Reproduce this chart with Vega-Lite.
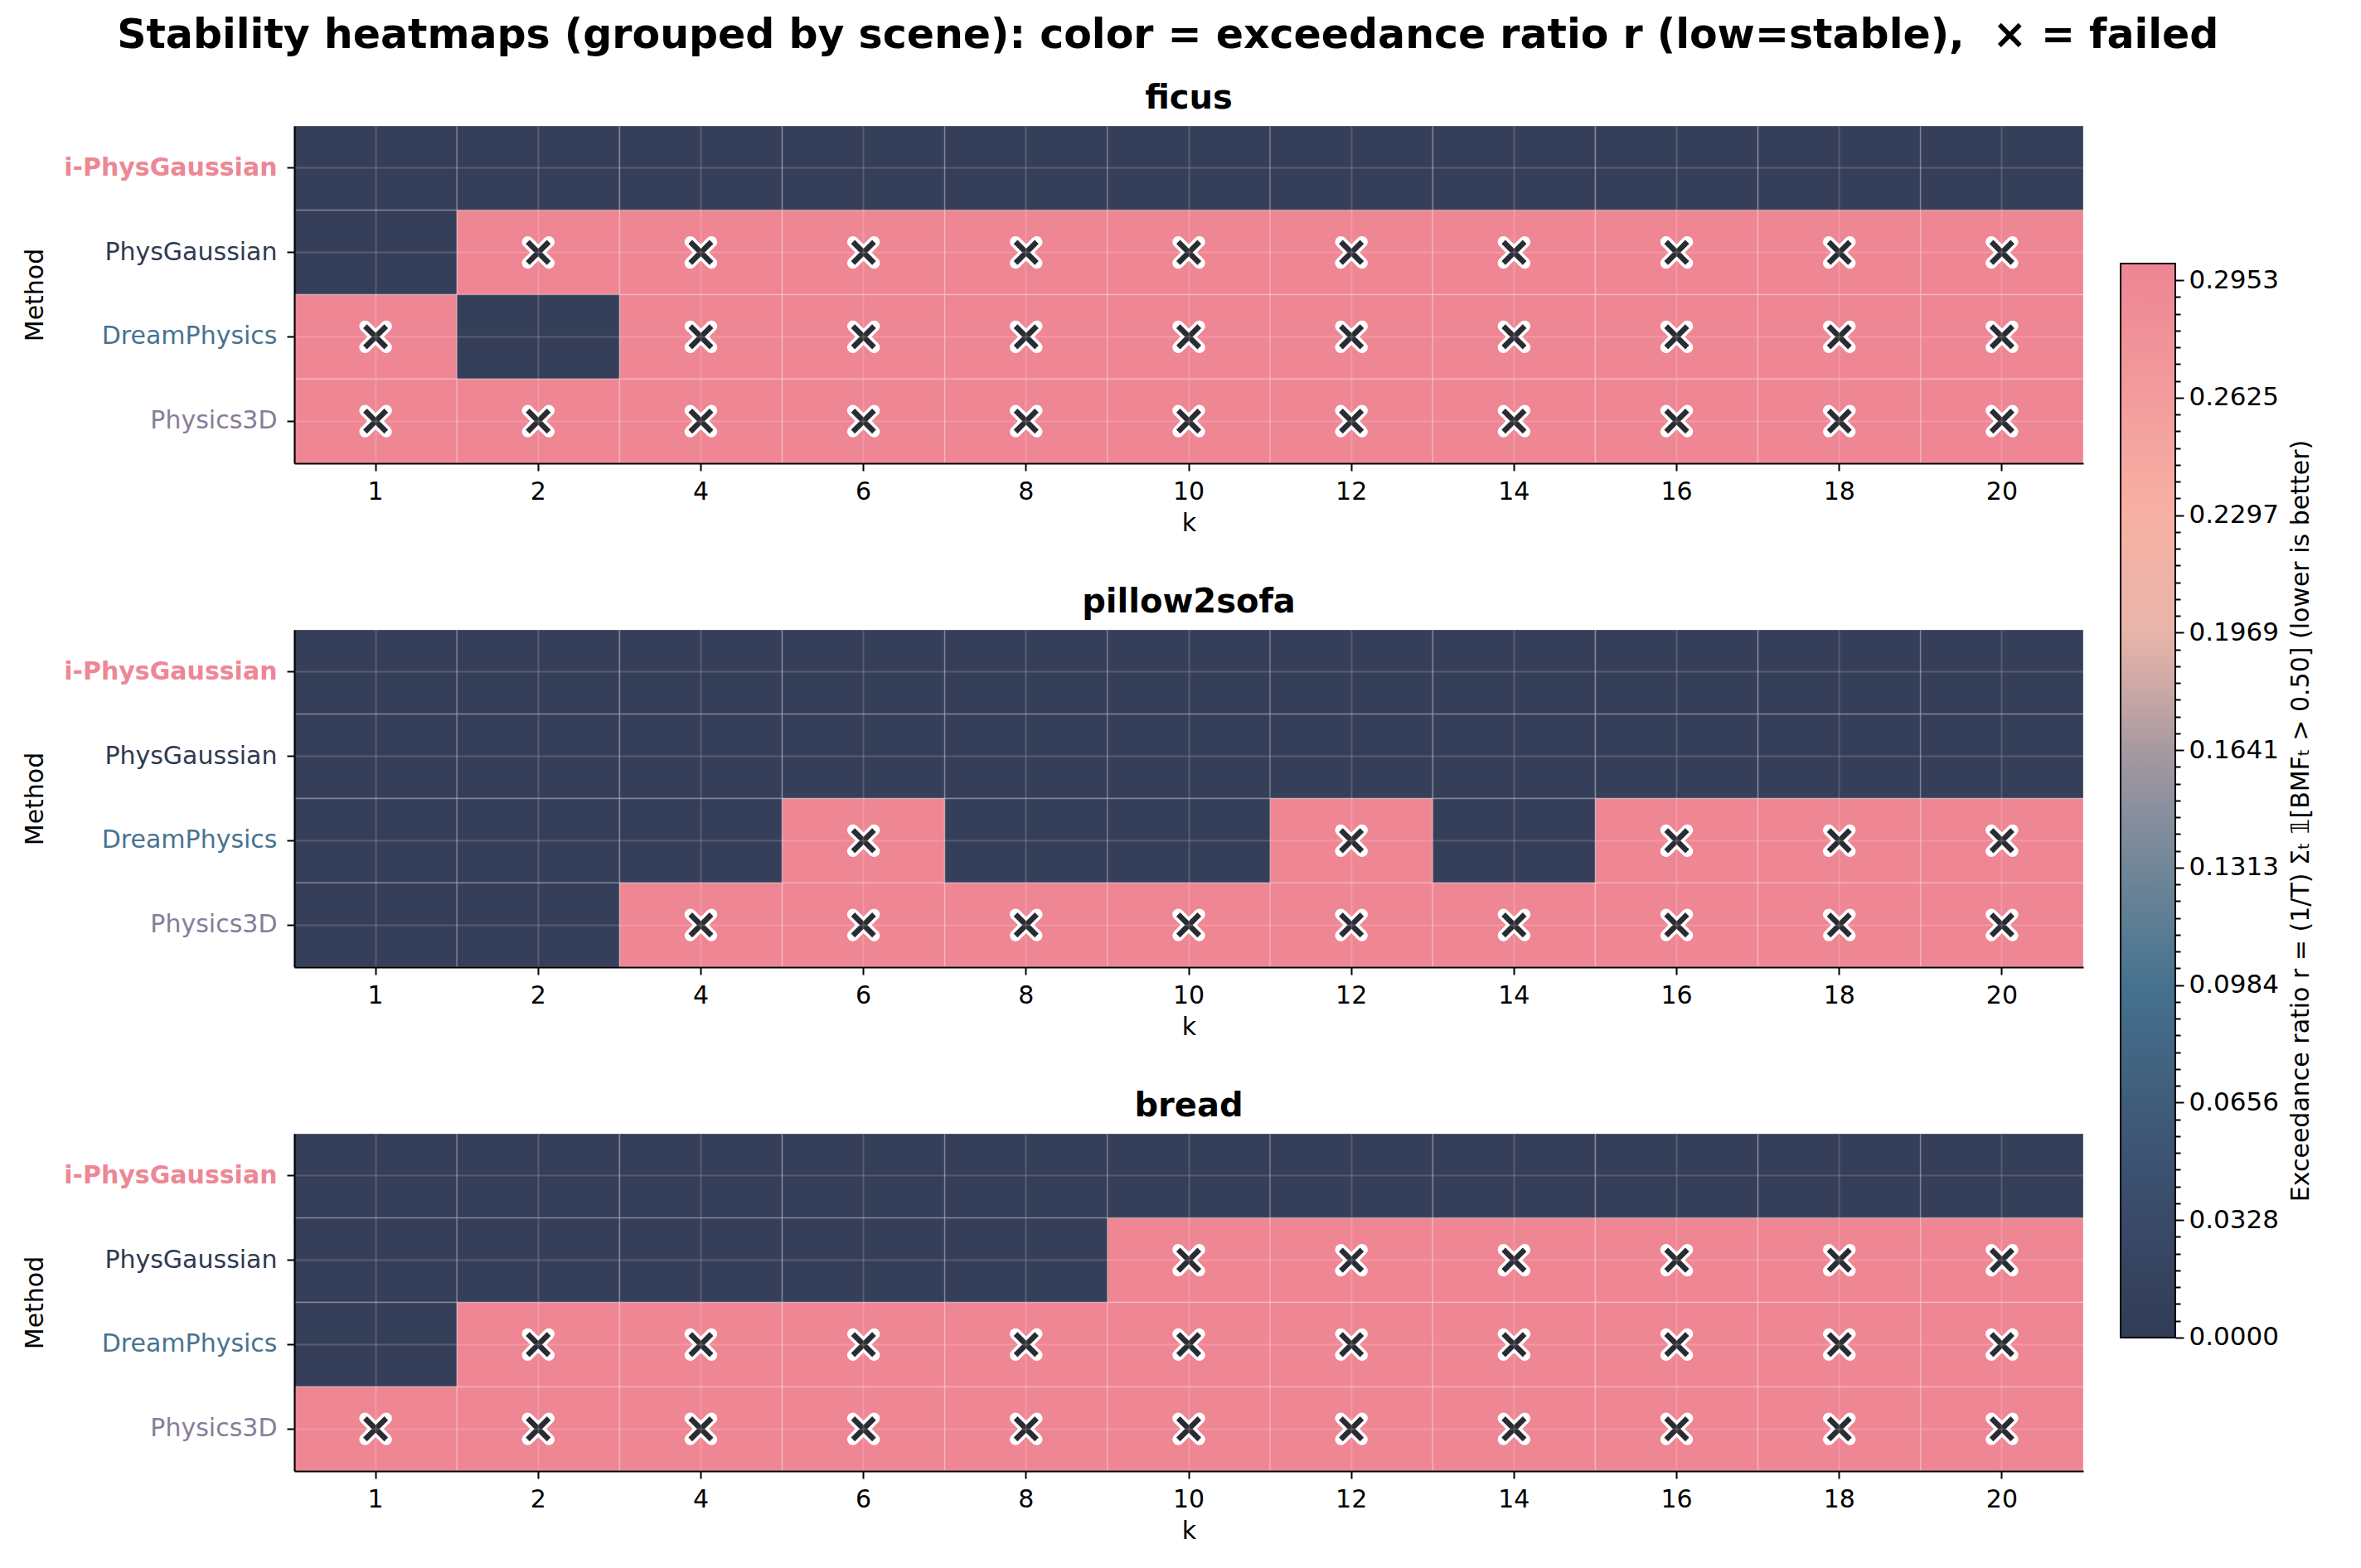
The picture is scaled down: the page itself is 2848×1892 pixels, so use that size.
{
  "$schema": "https://vega.github.io/schema/vega-lite/v6.json",
  "background": "white",
  "padding": {"left": 27, "top": 19, "right": 26, "bottom": 20},
  "title": {"text": "Stability heatmaps (grouped by scene): color = exceedance ratio r (low=stable), \u00a0× = failed", "fontSize": 49, "fontWeight": "bold", "font": "DejaVu Sans", "anchor": "middle", "offset": 31, "color": "black"},
  "datasets": {
    "cbar": [{"lo": 0, "hi": 0.3}],
    "cells": [
      {"scene": "ficus", "method": "i-PhysGaussian", "k": 1, "r": 0, "failed": 0},
      {"scene": "ficus", "method": "i-PhysGaussian", "k": 2, "r": 0, "failed": 0},
      {"scene": "ficus", "method": "i-PhysGaussian", "k": 4, "r": 0, "failed": 0},
      {"scene": "ficus", "method": "i-PhysGaussian", "k": 6, "r": 0, "failed": 0},
      {"scene": "ficus", "method": "i-PhysGaussian", "k": 8, "r": 0, "failed": 0},
      {"scene": "ficus", "method": "i-PhysGaussian", "k": 10, "r": 0, "failed": 0},
      {"scene": "ficus", "method": "i-PhysGaussian", "k": 12, "r": 0, "failed": 0},
      {"scene": "ficus", "method": "i-PhysGaussian", "k": 14, "r": 0, "failed": 0},
      {"scene": "ficus", "method": "i-PhysGaussian", "k": 16, "r": 0, "failed": 0},
      {"scene": "ficus", "method": "i-PhysGaussian", "k": 18, "r": 0, "failed": 0},
      {"scene": "ficus", "method": "i-PhysGaussian", "k": 20, "r": 0, "failed": 0},
      {"scene": "ficus", "method": "PhysGaussian", "k": 1, "r": 0, "failed": 0},
      {"scene": "ficus", "method": "PhysGaussian", "k": 2, "r": 0.3, "failed": 1},
      {"scene": "ficus", "method": "PhysGaussian", "k": 4, "r": 0.3, "failed": 1},
      {"scene": "ficus", "method": "PhysGaussian", "k": 6, "r": 0.3, "failed": 1},
      {"scene": "ficus", "method": "PhysGaussian", "k": 8, "r": 0.3, "failed": 1},
      {"scene": "ficus", "method": "PhysGaussian", "k": 10, "r": 0.3, "failed": 1},
      {"scene": "ficus", "method": "PhysGaussian", "k": 12, "r": 0.3, "failed": 1},
      {"scene": "ficus", "method": "PhysGaussian", "k": 14, "r": 0.3, "failed": 1},
      {"scene": "ficus", "method": "PhysGaussian", "k": 16, "r": 0.3, "failed": 1},
      {"scene": "ficus", "method": "PhysGaussian", "k": 18, "r": 0.3, "failed": 1},
      {"scene": "ficus", "method": "PhysGaussian", "k": 20, "r": 0.3, "failed": 1},
      {"scene": "ficus", "method": "DreamPhysics", "k": 1, "r": 0.3, "failed": 1},
      {"scene": "ficus", "method": "DreamPhysics", "k": 2, "r": 0, "failed": 0},
      {"scene": "ficus", "method": "DreamPhysics", "k": 4, "r": 0.3, "failed": 1},
      {"scene": "ficus", "method": "DreamPhysics", "k": 6, "r": 0.3, "failed": 1},
      {"scene": "ficus", "method": "DreamPhysics", "k": 8, "r": 0.3, "failed": 1},
      {"scene": "ficus", "method": "DreamPhysics", "k": 10, "r": 0.3, "failed": 1},
      {"scene": "ficus", "method": "DreamPhysics", "k": 12, "r": 0.3, "failed": 1},
      {"scene": "ficus", "method": "DreamPhysics", "k": 14, "r": 0.3, "failed": 1},
      {"scene": "ficus", "method": "DreamPhysics", "k": 16, "r": 0.3, "failed": 1},
      {"scene": "ficus", "method": "DreamPhysics", "k": 18, "r": 0.3, "failed": 1},
      {"scene": "ficus", "method": "DreamPhysics", "k": 20, "r": 0.3, "failed": 1},
      {"scene": "ficus", "method": "Physics3D", "k": 1, "r": 0.3, "failed": 1},
      {"scene": "ficus", "method": "Physics3D", "k": 2, "r": 0.3, "failed": 1},
      {"scene": "ficus", "method": "Physics3D", "k": 4, "r": 0.3, "failed": 1},
      {"scene": "ficus", "method": "Physics3D", "k": 6, "r": 0.3, "failed": 1},
      {"scene": "ficus", "method": "Physics3D", "k": 8, "r": 0.3, "failed": 1},
      {"scene": "ficus", "method": "Physics3D", "k": 10, "r": 0.3, "failed": 1},
      {"scene": "ficus", "method": "Physics3D", "k": 12, "r": 0.3, "failed": 1},
      {"scene": "ficus", "method": "Physics3D", "k": 14, "r": 0.3, "failed": 1},
      {"scene": "ficus", "method": "Physics3D", "k": 16, "r": 0.3, "failed": 1},
      {"scene": "ficus", "method": "Physics3D", "k": 18, "r": 0.3, "failed": 1},
      {"scene": "ficus", "method": "Physics3D", "k": 20, "r": 0.3, "failed": 1},
      {"scene": "pillow2sofa", "method": "i-PhysGaussian", "k": 1, "r": 0, "failed": 0},
      {"scene": "pillow2sofa", "method": "i-PhysGaussian", "k": 2, "r": 0, "failed": 0},
      {"scene": "pillow2sofa", "method": "i-PhysGaussian", "k": 4, "r": 0, "failed": 0},
      {"scene": "pillow2sofa", "method": "i-PhysGaussian", "k": 6, "r": 0, "failed": 0},
      {"scene": "pillow2sofa", "method": "i-PhysGaussian", "k": 8, "r": 0, "failed": 0},
      {"scene": "pillow2sofa", "method": "i-PhysGaussian", "k": 10, "r": 0, "failed": 0},
      {"scene": "pillow2sofa", "method": "i-PhysGaussian", "k": 12, "r": 0, "failed": 0},
      {"scene": "pillow2sofa", "method": "i-PhysGaussian", "k": 14, "r": 0, "failed": 0},
      {"scene": "pillow2sofa", "method": "i-PhysGaussian", "k": 16, "r": 0, "failed": 0},
      {"scene": "pillow2sofa", "method": "i-PhysGaussian", "k": 18, "r": 0, "failed": 0},
      {"scene": "pillow2sofa", "method": "i-PhysGaussian", "k": 20, "r": 0, "failed": 0},
      {"scene": "pillow2sofa", "method": "PhysGaussian", "k": 1, "r": 0, "failed": 0},
      {"scene": "pillow2sofa", "method": "PhysGaussian", "k": 2, "r": 0, "failed": 0},
      {"scene": "pillow2sofa", "method": "PhysGaussian", "k": 4, "r": 0, "failed": 0},
      {"scene": "pillow2sofa", "method": "PhysGaussian", "k": 6, "r": 0, "failed": 0},
      {"scene": "pillow2sofa", "method": "PhysGaussian", "k": 8, "r": 0, "failed": 0},
      {"scene": "pillow2sofa", "method": "PhysGaussian", "k": 10, "r": 0, "failed": 0},
      {"scene": "pillow2sofa", "method": "PhysGaussian", "k": 12, "r": 0, "failed": 0},
      {"scene": "pillow2sofa", "method": "PhysGaussian", "k": 14, "r": 0, "failed": 0},
      {"scene": "pillow2sofa", "method": "PhysGaussian", "k": 16, "r": 0, "failed": 0},
      {"scene": "pillow2sofa", "method": "PhysGaussian", "k": 18, "r": 0, "failed": 0},
      {"scene": "pillow2sofa", "method": "PhysGaussian", "k": 20, "r": 0, "failed": 0},
      {"scene": "pillow2sofa", "method": "DreamPhysics", "k": 1, "r": 0, "failed": 0},
      {"scene": "pillow2sofa", "method": "DreamPhysics", "k": 2, "r": 0, "failed": 0},
      {"scene": "pillow2sofa", "method": "DreamPhysics", "k": 4, "r": 0, "failed": 0},
      {"scene": "pillow2sofa", "method": "DreamPhysics", "k": 6, "r": 0.3, "failed": 1},
      {"scene": "pillow2sofa", "method": "DreamPhysics", "k": 8, "r": 0, "failed": 0},
      {"scene": "pillow2sofa", "method": "DreamPhysics", "k": 10, "r": 0, "failed": 0},
      {"scene": "pillow2sofa", "method": "DreamPhysics", "k": 12, "r": 0.3, "failed": 1},
      {"scene": "pillow2sofa", "method": "DreamPhysics", "k": 14, "r": 0, "failed": 0},
      {"scene": "pillow2sofa", "method": "DreamPhysics", "k": 16, "r": 0.3, "failed": 1},
      {"scene": "pillow2sofa", "method": "DreamPhysics", "k": 18, "r": 0.3, "failed": 1},
      {"scene": "pillow2sofa", "method": "DreamPhysics", "k": 20, "r": 0.3, "failed": 1},
      {"scene": "pillow2sofa", "method": "Physics3D", "k": 1, "r": 0, "failed": 0},
      {"scene": "pillow2sofa", "method": "Physics3D", "k": 2, "r": 0, "failed": 0},
      {"scene": "pillow2sofa", "method": "Physics3D", "k": 4, "r": 0.3, "failed": 1},
      {"scene": "pillow2sofa", "method": "Physics3D", "k": 6, "r": 0.3, "failed": 1},
      {"scene": "pillow2sofa", "method": "Physics3D", "k": 8, "r": 0.3, "failed": 1},
      {"scene": "pillow2sofa", "method": "Physics3D", "k": 10, "r": 0.3, "failed": 1},
      {"scene": "pillow2sofa", "method": "Physics3D", "k": 12, "r": 0.3, "failed": 1},
      {"scene": "pillow2sofa", "method": "Physics3D", "k": 14, "r": 0.3, "failed": 1},
      {"scene": "pillow2sofa", "method": "Physics3D", "k": 16, "r": 0.3, "failed": 1},
      {"scene": "pillow2sofa", "method": "Physics3D", "k": 18, "r": 0.3, "failed": 1},
      {"scene": "pillow2sofa", "method": "Physics3D", "k": 20, "r": 0.3, "failed": 1},
      {"scene": "bread", "method": "i-PhysGaussian", "k": 1, "r": 0, "failed": 0},
      {"scene": "bread", "method": "i-PhysGaussian", "k": 2, "r": 0, "failed": 0},
      {"scene": "bread", "method": "i-PhysGaussian", "k": 4, "r": 0, "failed": 0},
      {"scene": "bread", "method": "i-PhysGaussian", "k": 6, "r": 0, "failed": 0},
      {"scene": "bread", "method": "i-PhysGaussian", "k": 8, "r": 0, "failed": 0},
      {"scene": "bread", "method": "i-PhysGaussian", "k": 10, "r": 0, "failed": 0},
      {"scene": "bread", "method": "i-PhysGaussian", "k": 12, "r": 0, "failed": 0},
      {"scene": "bread", "method": "i-PhysGaussian", "k": 14, "r": 0, "failed": 0},
      {"scene": "bread", "method": "i-PhysGaussian", "k": 16, "r": 0, "failed": 0},
      {"scene": "bread", "method": "i-PhysGaussian", "k": 18, "r": 0, "failed": 0},
      {"scene": "bread", "method": "i-PhysGaussian", "k": 20, "r": 0, "failed": 0},
      {"scene": "bread", "method": "PhysGaussian", "k": 1, "r": 0, "failed": 0},
      {"scene": "bread", "method": "PhysGaussian", "k": 2, "r": 0, "failed": 0},
      {"scene": "bread", "method": "PhysGaussian", "k": 4, "r": 0, "failed": 0},
      {"scene": "bread", "method": "PhysGaussian", "k": 6, "r": 0, "failed": 0},
      {"scene": "bread", "method": "PhysGaussian", "k": 8, "r": 0, "failed": 0},
      {"scene": "bread", "method": "PhysGaussian", "k": 10, "r": 0.3, "failed": 1},
      {"scene": "bread", "method": "PhysGaussian", "k": 12, "r": 0.3, "failed": 1},
      {"scene": "bread", "method": "PhysGaussian", "k": 14, "r": 0.3, "failed": 1},
      {"scene": "bread", "method": "PhysGaussian", "k": 16, "r": 0.3, "failed": 1},
      {"scene": "bread", "method": "PhysGaussian", "k": 18, "r": 0.3, "failed": 1},
      {"scene": "bread", "method": "PhysGaussian", "k": 20, "r": 0.3, "failed": 1},
      {"scene": "bread", "method": "DreamPhysics", "k": 1, "r": 0, "failed": 0},
      {"scene": "bread", "method": "DreamPhysics", "k": 2, "r": 0.3, "failed": 1},
      {"scene": "bread", "method": "DreamPhysics", "k": 4, "r": 0.3, "failed": 1},
      {"scene": "bread", "method": "DreamPhysics", "k": 6, "r": 0.3, "failed": 1},
      {"scene": "bread", "method": "DreamPhysics", "k": 8, "r": 0.3, "failed": 1},
      {"scene": "bread", "method": "DreamPhysics", "k": 10, "r": 0.3, "failed": 1},
      {"scene": "bread", "method": "DreamPhysics", "k": 12, "r": 0.3, "failed": 1},
      {"scene": "bread", "method": "DreamPhysics", "k": 14, "r": 0.3, "failed": 1},
      {"scene": "bread", "method": "DreamPhysics", "k": 16, "r": 0.3, "failed": 1},
      {"scene": "bread", "method": "DreamPhysics", "k": 18, "r": 0.3, "failed": 1},
      {"scene": "bread", "method": "DreamPhysics", "k": 20, "r": 0.3, "failed": 1},
      {"scene": "bread", "method": "Physics3D", "k": 1, "r": 0.3, "failed": 1},
      {"scene": "bread", "method": "Physics3D", "k": 2, "r": 0.3, "failed": 1},
      {"scene": "bread", "method": "Physics3D", "k": 4, "r": 0.3, "failed": 1},
      {"scene": "bread", "method": "Physics3D", "k": 6, "r": 0.3, "failed": 1},
      {"scene": "bread", "method": "Physics3D", "k": 8, "r": 0.3, "failed": 1},
      {"scene": "bread", "method": "Physics3D", "k": 10, "r": 0.3, "failed": 1},
      {"scene": "bread", "method": "Physics3D", "k": 12, "r": 0.3, "failed": 1},
      {"scene": "bread", "method": "Physics3D", "k": 14, "r": 0.3, "failed": 1},
      {"scene": "bread", "method": "Physics3D", "k": 16, "r": 0.3, "failed": 1},
      {"scene": "bread", "method": "Physics3D", "k": 18, "r": 0.3, "failed": 1},
      {"scene": "bread", "method": "Physics3D", "k": 20, "r": 0.3, "failed": 1}
    ]
  },
  "hconcat": [
    {
      "vconcat": [
        {
          "title": {"text": "ficus"},
          "width": 2158, "height": 407,
          "data": {"name": "cells"},
          "transform": [{"filter": "datum.scene === 'ficus'"}],
          "layer": [
            {"mark": {"type": "rect", "stroke": "white", "strokeOpacity": 0.16, "strokeWidth": 2},
             "encoding": {
               "x": {"field": "k", "type": "ordinal", "sort": [1,2,4,6,8,10,12,14,16,18,20], "scale": {"paddingInner": 0, "paddingOuter": 0}, "axis": {"title": "k", "bandPosition": 0.5, "grid": true, "zindex": 1}},
               "y": {"field": "method", "type": "nominal", "sort": ["i-PhysGaussian","PhysGaussian","DreamPhysics","Physics3D"], "scale": {"paddingInner": 0, "paddingOuter": 0}, "axis": {"title": "Method", "bandPosition": 0.5, "grid": true, "zindex": 1, "labelPadding": 12, "titleX": -298,
                 "labelColor": {"condition": [{"test": "datum.value === 'i-PhysGaussian'", "value": "#ee8795"}, {"test": "datum.value === 'DreamPhysics'", "value": "#48738f"}, {"test": "datum.value === 'Physics3D'", "value": "#877d97"}], "value": "#2f3a52"},
                 "labelFontWeight": {"condition": {"test": "datum.value === 'i-PhysGaussian'", "value": "bold"}, "value": "normal"}}},
               "color": {"field": "r", "type": "quantitative", "scale": {"domain": [0, 0.3], "range": ["#353f59", "#ef8694"]}, "legend": null}
             }},
            {"transform": [{"filter": "datum.failed == 1"}],
             "mark": {"type": "point", "shape": "M-1,-1L1,1M-1,1L1,-1", "filled": false, "stroke": "white", "strokeWidth": 14, "strokeCap": "round", "strokeJoin": "round", "size": 650, "opacity": 1},
             "encoding": {"x": {"field": "k", "type": "ordinal", "sort": [1,2,4,6,8,10,12,14,16,18,20]}, "y": {"field": "method", "type": "nominal", "sort": ["i-PhysGaussian","PhysGaussian","DreamPhysics","Physics3D"]}}},
            {"transform": [{"filter": "datum.failed == 1"}],
             "mark": {"type": "point", "shape": "M-1,-1L1,1M-1,1L1,-1", "filled": false, "stroke": "#2b2b33", "strokeWidth": 6.5, "strokeCap": "butt", "size": 650, "opacity": 1},
             "encoding": {"x": {"field": "k", "type": "ordinal", "sort": [1,2,4,6,8,10,12,14,16,18,20]}, "y": {"field": "method", "type": "nominal", "sort": ["i-PhysGaussian","PhysGaussian","DreamPhysics","Physics3D"]}}}
          ]
        },
        {
          "title": {"text": "pillow2sofa"},
          "width": 2158, "height": 407,
          "data": {"name": "cells"},
          "transform": [{"filter": "datum.scene === 'pillow2sofa'"}],
          "layer": [
            {"mark": {"type": "rect", "stroke": "white", "strokeOpacity": 0.16, "strokeWidth": 2},
             "encoding": {
               "x": {"field": "k", "type": "ordinal", "sort": [1,2,4,6,8,10,12,14,16,18,20], "scale": {"paddingInner": 0, "paddingOuter": 0}, "axis": {"title": "k", "bandPosition": 0.5, "grid": true, "zindex": 1}},
               "y": {"field": "method", "type": "nominal", "sort": ["i-PhysGaussian","PhysGaussian","DreamPhysics","Physics3D"], "scale": {"paddingInner": 0, "paddingOuter": 0}, "axis": {"title": "Method", "bandPosition": 0.5, "grid": true, "zindex": 1, "labelPadding": 12, "titleX": -298,
                 "labelColor": {"condition": [{"test": "datum.value === 'i-PhysGaussian'", "value": "#ee8795"}, {"test": "datum.value === 'DreamPhysics'", "value": "#48738f"}, {"test": "datum.value === 'Physics3D'", "value": "#877d97"}], "value": "#2f3a52"},
                 "labelFontWeight": {"condition": {"test": "datum.value === 'i-PhysGaussian'", "value": "bold"}, "value": "normal"}}},
               "color": {"field": "r", "type": "quantitative", "scale": {"domain": [0, 0.3], "range": ["#353f59", "#ef8694"]}, "legend": null}
             }},
            {"transform": [{"filter": "datum.failed == 1"}],
             "mark": {"type": "point", "shape": "M-1,-1L1,1M-1,1L1,-1", "filled": false, "stroke": "white", "strokeWidth": 14, "strokeCap": "round", "strokeJoin": "round", "size": 650, "opacity": 1},
             "encoding": {"x": {"field": "k", "type": "ordinal", "sort": [1,2,4,6,8,10,12,14,16,18,20]}, "y": {"field": "method", "type": "nominal", "sort": ["i-PhysGaussian","PhysGaussian","DreamPhysics","Physics3D"]}}},
            {"transform": [{"filter": "datum.failed == 1"}],
             "mark": {"type": "point", "shape": "M-1,-1L1,1M-1,1L1,-1", "filled": false, "stroke": "#2b2b33", "strokeWidth": 6.5, "strokeCap": "butt", "size": 650, "opacity": 1},
             "encoding": {"x": {"field": "k", "type": "ordinal", "sort": [1,2,4,6,8,10,12,14,16,18,20]}, "y": {"field": "method", "type": "nominal", "sort": ["i-PhysGaussian","PhysGaussian","DreamPhysics","Physics3D"]}}}
          ]
        },
        {
          "title": {"text": "bread"},
          "width": 2158, "height": 407,
          "data": {"name": "cells"},
          "transform": [{"filter": "datum.scene === 'bread'"}],
          "layer": [
            {"mark": {"type": "rect", "stroke": "white", "strokeOpacity": 0.16, "strokeWidth": 2},
             "encoding": {
               "x": {"field": "k", "type": "ordinal", "sort": [1,2,4,6,8,10,12,14,16,18,20], "scale": {"paddingInner": 0, "paddingOuter": 0}, "axis": {"title": "k", "bandPosition": 0.5, "grid": true, "zindex": 1}},
               "y": {"field": "method", "type": "nominal", "sort": ["i-PhysGaussian","PhysGaussian","DreamPhysics","Physics3D"], "scale": {"paddingInner": 0, "paddingOuter": 0}, "axis": {"title": "Method", "bandPosition": 0.5, "grid": true, "zindex": 1, "labelPadding": 12, "titleX": -298,
                 "labelColor": {"condition": [{"test": "datum.value === 'i-PhysGaussian'", "value": "#ee8795"}, {"test": "datum.value === 'DreamPhysics'", "value": "#48738f"}, {"test": "datum.value === 'Physics3D'", "value": "#877d97"}], "value": "#2f3a52"},
                 "labelFontWeight": {"condition": {"test": "datum.value === 'i-PhysGaussian'", "value": "bold"}, "value": "normal"}}},
               "color": {"field": "r", "type": "quantitative", "scale": {"domain": [0, 0.3], "range": ["#353f59", "#ef8694"]}, "legend": null}
             }},
            {"transform": [{"filter": "datum.failed == 1"}],
             "mark": {"type": "point", "shape": "M-1,-1L1,1M-1,1L1,-1", "filled": false, "stroke": "white", "strokeWidth": 14, "strokeCap": "round", "strokeJoin": "round", "size": 650, "opacity": 1},
             "encoding": {"x": {"field": "k", "type": "ordinal", "sort": [1,2,4,6,8,10,12,14,16,18,20]}, "y": {"field": "method", "type": "nominal", "sort": ["i-PhysGaussian","PhysGaussian","DreamPhysics","Physics3D"]}}},
            {"transform": [{"filter": "datum.failed == 1"}],
             "mark": {"type": "point", "shape": "M-1,-1L1,1M-1,1L1,-1", "filled": false, "stroke": "#2b2b33", "strokeWidth": 6.5, "strokeCap": "butt", "size": 650, "opacity": 1},
             "encoding": {"x": {"field": "k", "type": "ordinal", "sort": [1,2,4,6,8,10,12,14,16,18,20]}, "y": {"field": "method", "type": "nominal", "sort": ["i-PhysGaussian","PhysGaussian","DreamPhysics","Physics3D"]}}}
          ]
        }
      ],
      "spacing": 201,
      "bounds": "flush"
    },
    {
      "width": 66,
      "height": 1676,
      "data": {"name": "cbar"},
      "mark": {"type": "rect", "stroke": "black", "strokeWidth": 2,
        "fill": {"gradient": "linear", "x1": 0, "y1": 1, "x2": 0, "y2": 0, "stops": [
          {"offset": 0, "color": "#323c56"},
          {"offset": 0.11, "color": "#394a68"},
          {"offset": 0.22, "color": "#3f5d7b"},
          {"offset": 0.33, "color": "#46728f"},
          {"offset": 0.44, "color": "#728899"},
          {"offset": 0.49, "color": "#898f9e"},
          {"offset": 0.55, "color": "#a89aa1"},
          {"offset": 0.61, "color": "#cfaaa5"},
          {"offset": 0.66, "color": "#e9b5aa"},
          {"offset": 0.77, "color": "#f8b0a3"},
          {"offset": 0.875, "color": "#f29c9d"},
          {"offset": 1, "color": "#ee8593"}
        ]}},
      "encoding": {
        "y": {"field": "lo", "type": "quantitative", "scale": {"domain": [-0.04954, 0.33843], "nice": false, "zero": false},
          "axis": {"orient": "right", "domain": false, "grid": false, "title": "Exceedance ratio  r = (1/T) Σₜ 𝟙[BMFₜ > 0.50]  (lower is better)", "titleAngle": 270, "titleBaseline": "top", "titlePadding": 12, "labelPadding": 6, "labelFontSize": 31,
            "values": [0, 0.004688, 0.009376, 0.014063, 0.018751, 0.023439, 0.028127, 0.032814, 0.037502, 0.04219, 0.046878, 0.051566, 0.056253, 0.060941, 0.065629, 0.070317, 0.075004, 0.079692, 0.08438, 0.089068, 0.093756, 0.098443, 0.103131, 0.107819, 0.112507, 0.117194, 0.121882, 0.12657, 0.131258, 0.135946, 0.140633, 0.145321, 0.150009, 0.154697, 0.159384, 0.164072, 0.16876, 0.173448, 0.178136, 0.182823, 0.187511, 0.192199, 0.196887, 0.201574, 0.206262, 0.21095, 0.215638, 0.220326, 0.225013, 0.229701, 0.234389, 0.239077, 0.243764, 0.248452, 0.25314, 0.257828, 0.262516, 0.267203, 0.271891, 0.276579, 0.281267, 0.285954, 0.290642, 0.29533],
            "labelExpr": "abs(datum.value / 0.03281444 - round(datum.value / 0.03281444)) < 0.05 ? format(datum.value, '.4f') : ''",
            "tickSize": {"condition": {"test": "abs(datum.value / 0.03281444 - round(datum.value / 0.03281444)) < 0.05", "value": 10}, "value": 6}
          }},
        "y2": {"field": "hi"}
      }
    }
  ],
  "spacing": 43,
  "config": {
    "font": "DejaVu Sans",
    "view": {"stroke": null},
    "title": {"font": "DejaVu Sans", "fontSize": 40, "fontWeight": "bold", "color": "black", "offset": 12},
    "axis": {
      "labelFont": "DejaVu Sans", "titleFont": "DejaVu Sans",
      "labelFontSize": 30, "titleFontSize": 30, "titleFontWeight": "normal",
      "labelColor": "black", "titleColor": "black", "labelLimit": 0,
      "domainColor": "black", "domainWidth": 2.2,
      "tickColor": "black", "tickWidth": 2, "tickSize": 9,
      "gridColor": "white", "gridOpacity": 0.16, "gridWidth": 2
    },
    "axisX": {"labelAngle": 0, "labelPadding": 10, "titlePadding": 8}
  }
}
